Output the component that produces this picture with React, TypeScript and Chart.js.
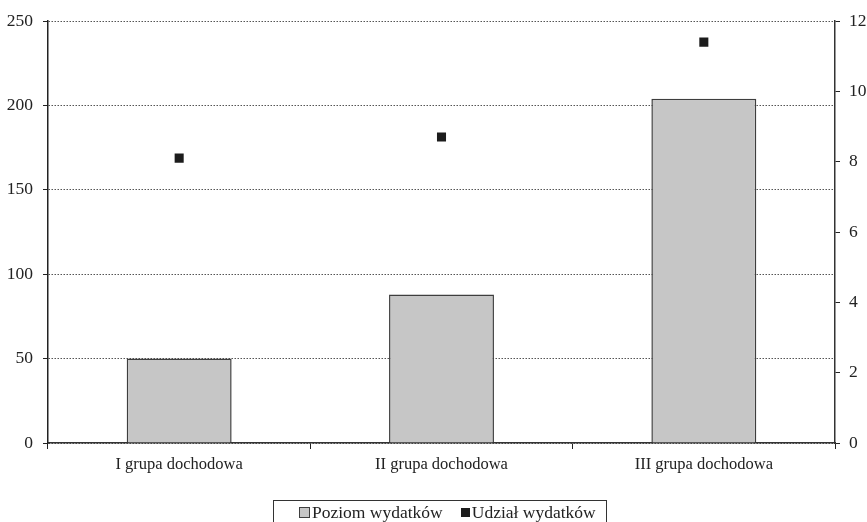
import React, { useEffect, useRef } from "react";
import { Chart, registerables } from "chart.js";

Chart.register(...registerables);

const categories = ["I grupa dochodowa", "II grupa dochodowa", "III grupa dochodowa"];
const poziomWydatkow = [50, 88, 204];
const udzialWydatkow = [8.1, 8.7, 11.4];
const leftTicks = [0, 50, 100, 150, 200, 250];
const rightTicks = [0, 2, 4, 6, 8, 10, 12];

const SERIF = "'Liberation Serif', 'Times New Roman', serif";
const BAR_FILL = "#c6c6c6";
const BAR_EDGE = "#3e3e3e";
const POINT_FILL = "#1c1c1c";

export default function App() {
  const canvasRef = useRef<HTMLCanvasElement | null>(null);

  useEffect(() => {
    if (!canvasRef.current) return;
    const chart = new Chart(canvasRef.current, {
      type: "bar",
      data: {
        labels: categories,
        datasets: [
          {
            type: "line",
            label: "Udział wydatków",
            data: udzialWydatkow,
            yAxisID: "y1",
            showLine: false,
            pointStyle: "rect",
            pointRadius: 6.4,
            pointHoverRadius: 6.4,
            pointBackgroundColor: POINT_FILL,
            pointBorderColor: POINT_FILL,
            pointBorderWidth: 0,
            order: 0,
          },
          {
            type: "bar",
            label: "Poziom wydatków",
            data: poziomWydatkow,
            yAxisID: "y",
            backgroundColor: BAR_FILL,
            borderColor: BAR_EDGE,
            borderWidth: 1.5,
            categoryPercentage: 1,
            barPercentage: 0.4,
            order: 1,
          },
        ],
      },
      options: {
        responsive: false,
        animation: false,
        layout: { padding: { top: 21, left: 0, right: 0, bottom: 0 } },
        plugins: {
          legend: { display: false },
          tooltip: { enabled: false },
        },
        scales: {
          x: {
            grid: {
              offset: true,
              drawOnChartArea: false,
              drawTicks: true,
              tickLength: 6,
              tickColor: "#222",
            },
            border: { display: true, color: "#333", width: 1.5 },
            ticks: {
              color: "#222",
              padding: 6,
              font: { family: SERIF, size: 16.5 },
              maxRotation: 0,
            },
            afterFit: (scale: any) => {
              scale.height = 79;
            },
          },
          y: {
            position: "left",
            min: 0,
            max: 250,
            afterBuildTicks: (scale: any) => {
              scale.ticks = leftTicks.map((v) => ({ value: v }));
            },
            grid: {
              color: "#555",
              lineWidth: 1,
              tickColor: "#222",
              tickLength: 5,
              tickBorderDash: [],
            },
            // dotted horizontal grid lines; the axis line itself stays solid
            border: { display: true, color: "#222", width: 1.5, dash: [1.5, 1.5] },
            ticks: {
              color: "#222",
              padding: 10,
              font: { family: SERIF, size: 17.5 },
            },
            afterFit: (scale: any) => {
              scale.width = 48;
            },
          },
          y1: {
            position: "right",
            min: 0,
            max: 12,
            afterBuildTicks: (scale: any) => {
              scale.ticks = rightTicks.map((v) => ({ value: v }));
            },
            grid: {
              drawOnChartArea: false,
              tickColor: "#222",
              tickLength: 5,
            },
            border: { display: true, color: "#333", width: 1.5 },
            ticks: {
              color: "#222",
              padding: 9,
              font: { family: SERIF, size: 17.5 },
            },
            afterFit: (scale: any) => {
              scale.width = 32;
            },
          },
        },
      },
    } as any);
    return () => chart.destroy();
  }, []);

  return (
    <div
      style={{
        position: "absolute",
        left: 0,
        top: 0,
        width: 867,
        height: 522,
        overflow: "hidden",
        background: "#fff",
      }}
    >
      <canvas ref={canvasRef} width={867} height={522} style={{ display: "block" }} />
      <div
        style={{
          position: "absolute",
          left: 273,
          top: 500,
          width: 334,
          height: 40,
          border: "1px solid #333",
          boxSizing: "border-box",
          fontFamily: SERIF,
          fontSize: 17.5,
          color: "#222",
          display: "flex",
          alignItems: "flex-start",
          paddingTop: 0,
          paddingLeft: 25,
        }}
      >
        <span style={{ display: "flex", alignItems: "center", height: 22 }}>
          <span
            style={{
              display: "inline-block",
              width: 9,
              height: 9,
              background: BAR_FILL,
              border: `1px solid ${BAR_EDGE}`,
              marginRight: 2,
            }}
          />
          <span>{"Poziom wydatków"}</span>
        </span>
        <span style={{ display: "flex", alignItems: "center", height: 22, marginLeft: 18 }}>
          <span
            style={{
              display: "inline-block",
              width: 9,
              height: 9,
              background: POINT_FILL,
              marginRight: 2,
            }}
          />
          <span>{"Udział wydatków"}</span>
        </span>
      </div>
    </div>
  );
}
